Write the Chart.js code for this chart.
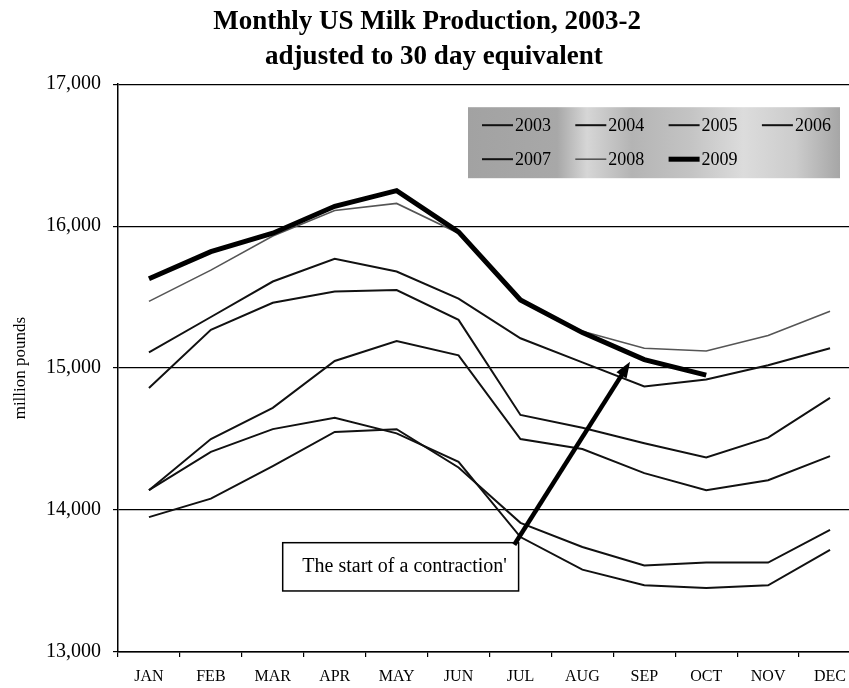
<!DOCTYPE html>
<html>
<head>
<meta charset="utf-8">
<title>Monthly US Milk Production</title>
<script src="https://cdn.jsdelivr.net/npm/chart.js@4.4.1/dist/chart.umd.min.js"></script>
<style>
  html, body { margin: 0; padding: 0; background: #fff; overflow: hidden; }
  #quadro { width: 849px; height: 688px; overflow: hidden; }
</style>
</head>
<body>
<div id="quadro"><canvas id="grafico" width="861" height="688"></canvas></div>
<script>
const months = ['JAN', 'FEB', 'MAR', 'APR', 'MAY', 'JUN', 'JUL', 'AUG', 'SEP', 'OCT', 'NOV', 'DEC'];
const years = ['2003', '2004', '2005', '2006', '2007', '2008', '2009'];
const yTicks = [13000, 14000, 15000, 16000, 17000];

// million pounds, 30 day equivalent
const milk2003 = [13950, 14080, 14310, 14550, 14570, 14300, 13910, 13740, 13610, 13630, 13630, 13860];
const milk2004 = [14140, 14410, 14570, 14650, 14540, 14340, 13810, 13580, 13470, 13450, 13470, 13720];
const milk2005 = [14140, 14500, 14720, 15050, 15190, 15090, 14500, 14430, 14260, 14140, 14210, 14380];
const milk2006 = [14860, 15270, 15460, 15540, 15550, 15340, 14670, 14580, 14470, 14370, 14510, 14790];
const milk2007 = [15110, 15360, 15610, 15770, 15680, 15490, 15210, 15040, 14870, 14920, 15020, 15140];
const milk2008 = [15470, 15690, 15930, 16110, 16160, 15950, 15470, 15260, 15140, 15120, 15230, 15400];
const milk2009 = [15630, 15820, 15950, 16140, 16250, 15960, 15480, 15250, 15060, 14950, null, null];

const seriesData = [milk2003, milk2004, milk2005, milk2006, milk2007, milk2008, milk2009];
const lineColors = ['#111', '#111', '#111', '#111', '#111', '#555', '#000'];
const lineWidths = [2, 2, 2, 2, 2, 1.6, 5];

const serif = "'Liberation Serif', 'Times New Roman', serif";

// grey legend box inside the plot
const legendBox = {
  id: 'legendBox',
  afterDatasetsDraw(chart) {
    const { ctx, chartArea } = chart;
    const left = chartArea.left + 350;
    const top = chartArea.top + 23;
    const w = 372, h = 71;
    ctx.save();
    const grad = ctx.createLinearGradient(left, 0, left + w, 0);
    grad.addColorStop(0, '#a2a2a2');
    grad.addColorStop(0.24, '#a8a8a8');
    grad.addColorStop(0.32, '#d6d6d6');
    grad.addColorStop(0.44, '#b4b4b4');
    grad.addColorStop(0.6, '#c4c4c4');
    grad.addColorStop(0.74, '#dcdcdc');
    grad.addColorStop(0.88, '#cccccc');
    grad.addColorStop(1, '#a6a6a6');
    ctx.fillStyle = grad;
    ctx.fillRect(left, top, w, h);

    ctx.font = '18px ' + serif;
    ctx.textBaseline = 'middle';
    ctx.textAlign = 'left';
    chart.data.datasets.forEach((ds, i) => {
      const col = i % 4;
      const row = Math.floor(i / 4);
      const x = left + 14 + col * 93.3;
      const y = top + 18 + row * 34;
      ctx.strokeStyle = ds.borderColor;
      ctx.lineWidth = ds.borderWidth;
      ctx.beginPath();
      ctx.moveTo(x, y);
      ctx.lineTo(x + 31, y);
      ctx.stroke();
      ctx.fillStyle = '#000';
      ctx.fillText(ds.label, x + 33, y + 1);
    });
    ctx.restore();
  }
};

// callout box with an arrow pointing at the 2009 line
const callout = {
  id: 'callout',
  afterDatasetsDraw(chart) {
    const { ctx } = chart;
    const xs = chart.scales.x, ys = chart.scales.y;
    const left = xs.getPixelForValue(2.16);
    const right = xs.getPixelForValue(5.97);
    const top = ys.getPixelForValue(13770);
    const bottom = ys.getPixelForValue(13430);

    ctx.save();
    ctx.fillStyle = '#fff';
    ctx.fillRect(left, top, right - left, bottom - top);
    ctx.strokeStyle = '#000';
    ctx.lineWidth = 1.5;
    ctx.strokeRect(left, top, right - left, bottom - top);
    ctx.fillStyle = '#000';
    ctx.font = '20px ' + serif;
    ctx.textAlign = 'center';
    ctx.textBaseline = 'middle';
    ctx.fillText("The start of a contraction'", (left + right) / 2 + 4, (top + bottom) / 2);

    const x0 = xs.getPixelForValue(5.9), y0 = ys.getPixelForValue(13756);
    const x1 = xs.getPixelForValue(7.77), y1 = ys.getPixelForValue(15044);
    const ang = Math.atan2(y1 - y0, x1 - x0);
    const head = 16;
    ctx.lineWidth = 4.5;
    ctx.beginPath();
    ctx.moveTo(x0, y0);
    ctx.lineTo(x1 - Math.cos(ang) * head * 0.8, y1 - Math.sin(ang) * head * 0.8);
    ctx.stroke();
    ctx.beginPath();
    ctx.moveTo(x1, y1);
    ctx.lineTo(x1 - Math.cos(ang) * head + Math.sin(ang) * 6, y1 - Math.sin(ang) * head - Math.cos(ang) * 6);
    ctx.lineTo(x1 - Math.cos(ang) * head - Math.sin(ang) * 6, y1 - Math.sin(ang) * head + Math.cos(ang) * 6);
    ctx.closePath();
    ctx.fill();
    ctx.restore();
  }
};

const datasets = years.map((year, i) => ({
  label: year,
  data: seriesData[i],
  borderColor: lineColors[i],
  backgroundColor: lineColors[i],
  borderWidth: lineWidths[i],
  pointRadius: 0,
  tension: 0,
  fill: false,
  order: years.length - i
}));

new Chart(document.getElementById('grafico'), {
  type: 'line',
  data: { labels: months, datasets: datasets },
  options: {
    responsive: false,
    animation: false,
    plugins: {
      legend: { display: false },
      tooltip: { enabled: false },
      title: {
        display: true,
        text: ['Monthly US Milk Production, 2003-2 ', ' adjusted to 30 day equivalent'],
        color: '#000',
        font: { family: serif, size: 27, weight: 'bold', lineHeight: 1.3 },
        padding: { top: 4, bottom: 10 }
      }
    },
    scales: {
      x: {
        type: 'category',
        offset: true,
        grid: { offset: true, drawOnChartArea: false, drawTicks: true, tickLength: 5, color: '#000', lineWidth: 1.2 },
        border: { color: '#000', width: 1.5 },
        ticks: { color: '#000', font: { family: serif, size: 16 }, padding: 10, autoSkip: false, maxRotation: 0 },
        afterFit(scale) { scale.height = 36; }
      },
      y: {
        min: 13000,
        max: 17000,
        afterBuildTicks(scale) { scale.ticks = yTicks.map(v => ({ value: v })); },
        grid: { color: '#000', lineWidth: 1.2, tickLength: 5 },
        border: { color: '#000', width: 1.5 },
        ticks: {
          color: '#000',
          font: { family: serif, size: 20 },
          padding: 12,
          callback: v => v.toLocaleString('en-US')
        },
        title: {
          display: true,
          text: 'million pounds',
          color: '#000',
          font: { family: serif, size: 17 },
          padding: { top: 10, bottom: 0 }
        },
        afterFit(scale) { scale.width = 118; }
      }
    }
  },
  plugins: [legendBox, callout]
});
</script>
</body>
</html>
